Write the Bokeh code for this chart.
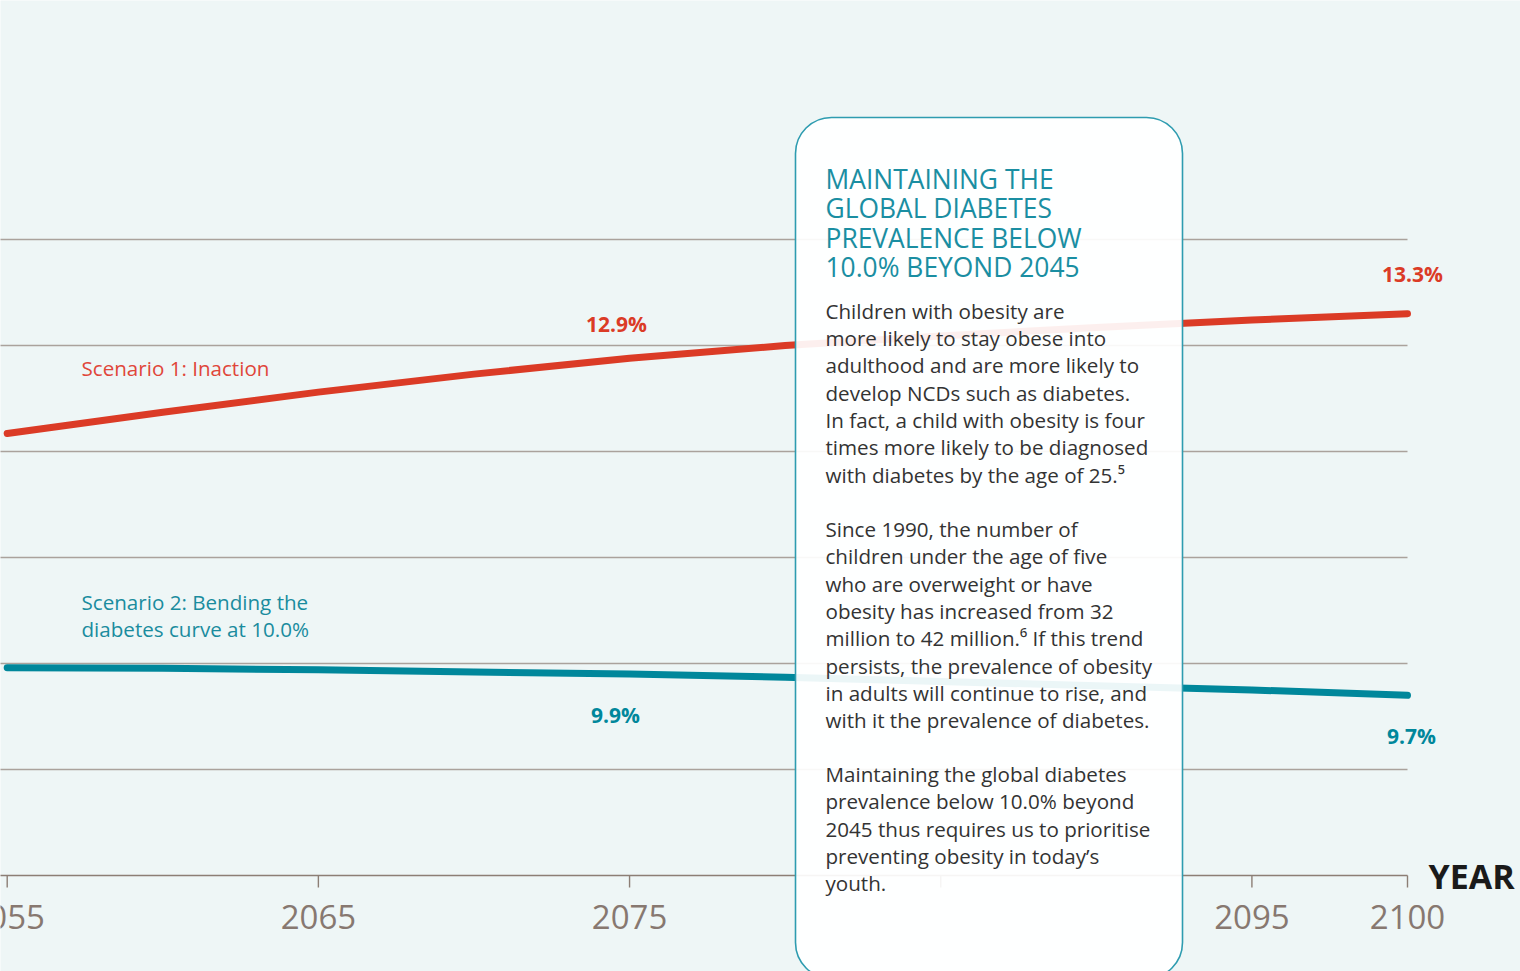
import math
from bokeh.plotting import figure
from bokeh.models import BoxAnnotation, Label, ColumnDataSource
from bokeh.core.properties import value
from bokeh.embed import file_html
from bokeh.resources import INLINE

# ---------------- data ----------------
years = [2055, 2060, 2065, 2070, 2075, 2080, 2085, 2090, 2095, 2100]
inaction = [12.17, 12.37, 12.56, 12.73, 12.88, 13.00, 13.09, 13.17, 13.24, 13.30]
bending = [9.96, 9.955, 9.94, 9.92, 9.90, 9.87, 9.83, 9.79, 9.75, 9.70]

label_years = [2075, 2100]
inaction_labels = [12.9, 13.3]
bending_labels = [9.9, 9.7]

axis_value = 8
grid_values = [9, 10, 11, 12, 13, 14]
tick_years = [2055, 2065, 2075, 2085, 2095, 2100]
tick_labels = ["2055", "2065", "2075", "", "2095", "2100"]

series_names = ["Scenario 1: Inaction", "Scenario 2: Bending the\ndiabetes curve at 10.0%"]

box_title = ["MAINTAINING THE", "GLOBAL DIABETES", "PREVALENCE BELOW", "10.0% BEYOND 2045"]
para1 = ["Children with obesity are",
         "more likely to stay obese into",
         "adulthood and are more likely to",
         "develop NCDs such as diabetes.",
         "In fact, a child with obesity is four",
         "times more likely to be diagnosed",
         "with diabetes by the age of 25.\u2075"]
para2 = ["Since 1990, the number of",
         "children under the age of five",
         "who are overweight or have",
         "obesity has increased from 32",
         "million to 42 million.\u2076 If this trend",
         "persists, the prevalence of obesity",
         "in adults will continue to rise, and",
         "with it the prevalence of diabetes."]
para3 = ["Maintaining the global diabetes",
         "prevalence below 10.0% beyond",
         "2045 thus requires us to prioritise",
         "preventing obesity in today\u2019s",
         "youth."]

# ---------------- layout helpers ----------------
W, H = 1520, 971
ppy = (1407 - 6.7) / 45.0          # pixels per year
x_start = 2055 - 6.7 / ppy
x_end = x_start + W / ppy
ppv = 106.0                        # pixels per percentage point
AXIS_PX = 875
TXT_SHIFT = -9.5                   # label baseline correction (px)


def X(px):
    return x_start + px / ppy


def Y(py):
    return 8 + (AXIS_PX - py) / ppv


def YT(py):
    return Y(py + TXT_SHIFT)


y_start = Y(H)
y_end = Y(0)

RED = "#db3b26"
TEAL = "#00879b"
AXC = "#8c7e75"
FONT = "Open Sans"

p = figure(width=W, height=H, x_range=(x_start, x_end), y_range=(y_start, y_end),
           output_backend="svg", toolbar_location=None,
           x_axis_location=None, y_axis_location=None,
           min_border_left=0, min_border_right=0, min_border_top=0, min_border_bottom=0)
p.background_fill_color = "#eef6f6"
p.border_fill_color = "#eef6f6"
p.outline_line_color = None
p.xgrid.visible = False
p.ygrid.visible = False

n = len(grid_values)
# grid lines ending at the last year
p.segment(x0=[years[0] - 10] * n, x1=[years[-1]] * n,
          y0=grid_values, y1=grid_values, line_color="#aaa29c", line_width=1.3)

# x axis (line, ticks, tick labels) drawn through the scales
p.segment(x0=[years[0] - 10], x1=[tick_years[-1]], y0=[axis_value], y1=[axis_value],
          line_color=AXC, line_width=1.4)
p.ray(x=tick_years, y=[axis_value] * len(tick_years), length=12, length_units="screen",
      angle=-math.pi / 2, line_color=AXC, line_width=1.4)
p.text(x=tick_years, y=[axis_value] * len(tick_years), text=tick_labels, y_offset=41,
       text_font=value(FONT), text_font_size="33px", text_color="#877870",
       text_align="center", text_baseline="middle")

# series
p.line(years, inaction, line_color=RED, line_width=7, line_cap="round")
p.line(years, bending, line_color=TEAL, line_width=7, line_cap="round")

# value labels
src_r = ColumnDataSource(dict(x=label_years, y=inaction_labels,
                              t=[f"{v:.1f}%" for v in inaction_labels],
                              dx=[-13, 5], dy=[-32, -40]))
src_b = ColumnDataSource(dict(x=label_years, y=bending_labels,
                              t=[f"{v:.1f}%" for v in bending_labels],
                              dx=[-14, 4], dy=[41, 41]))
for src, col in ((src_r, RED), (src_b, TEAL)):
    p.text(x="x", y="y", text="t", x_offset="dx", y_offset="dy", source=src,
           text_font=value(FONT), text_font_style="bold", text_font_size="21px",
           text_color=col, text_align="center", text_baseline="middle")

p.add_layout(Label(x=tick_years[-1], y=axis_value, x_offset=21, y_offset=0, text="YEAR",
                   text_font=FONT, text_font_style="bold", text_font_size="34px",
                   text_color="#1a1a1a", text_align="left", text_baseline="middle"))

# scenario labels
p.add_layout(Label(x=X(81), y=YT(376.7), text=series_names[0], text_font=FONT,
                   text_font_size="20.6px", text_color="#e0463a",
                   text_align="left", text_baseline="alphabetic"))
for i, line in enumerate(series_names[1].split("\n")):
    p.add_layout(Label(x=X(81), y=YT(610.7 + 27.6 * i), text=line, text_font=FONT,
                       text_font_size="20.6px", text_color="#1a8c9e",
                       text_align="left", text_baseline="alphabetic"))

# info box
box = BoxAnnotation(left=X(795), right=X(1182), top=Y(117), bottom=Y(978),
                    fill_color="white", fill_alpha=0.92,
                    line_color="#2e9cb0", line_alpha=1.0, line_width=1.6,
                    border_radius=36)
p.add_layout(box)

for i, line in enumerate(box_title):
    p.add_layout(Label(x=X(825), y=YT(187.5 + 29.6 * i), text=line, text_font=FONT,
                       text_font_size="26.4px", text_color="#1a8ea2",
                       text_align="left", text_baseline="alphabetic"))

for base, para in ((319.5, para1), (538.0, para2), (783.0, para3)):
    for i, line in enumerate(para):
        p.add_layout(Label(x=X(825), y=YT(base + 27.35 * i), text=line, text_font=FONT,
                           text_font_size="20.6px", text_color="#333333",
                           text_align="left", text_baseline="alphabetic"))

open("out.html", "w").write(file_html(p, INLINE))
